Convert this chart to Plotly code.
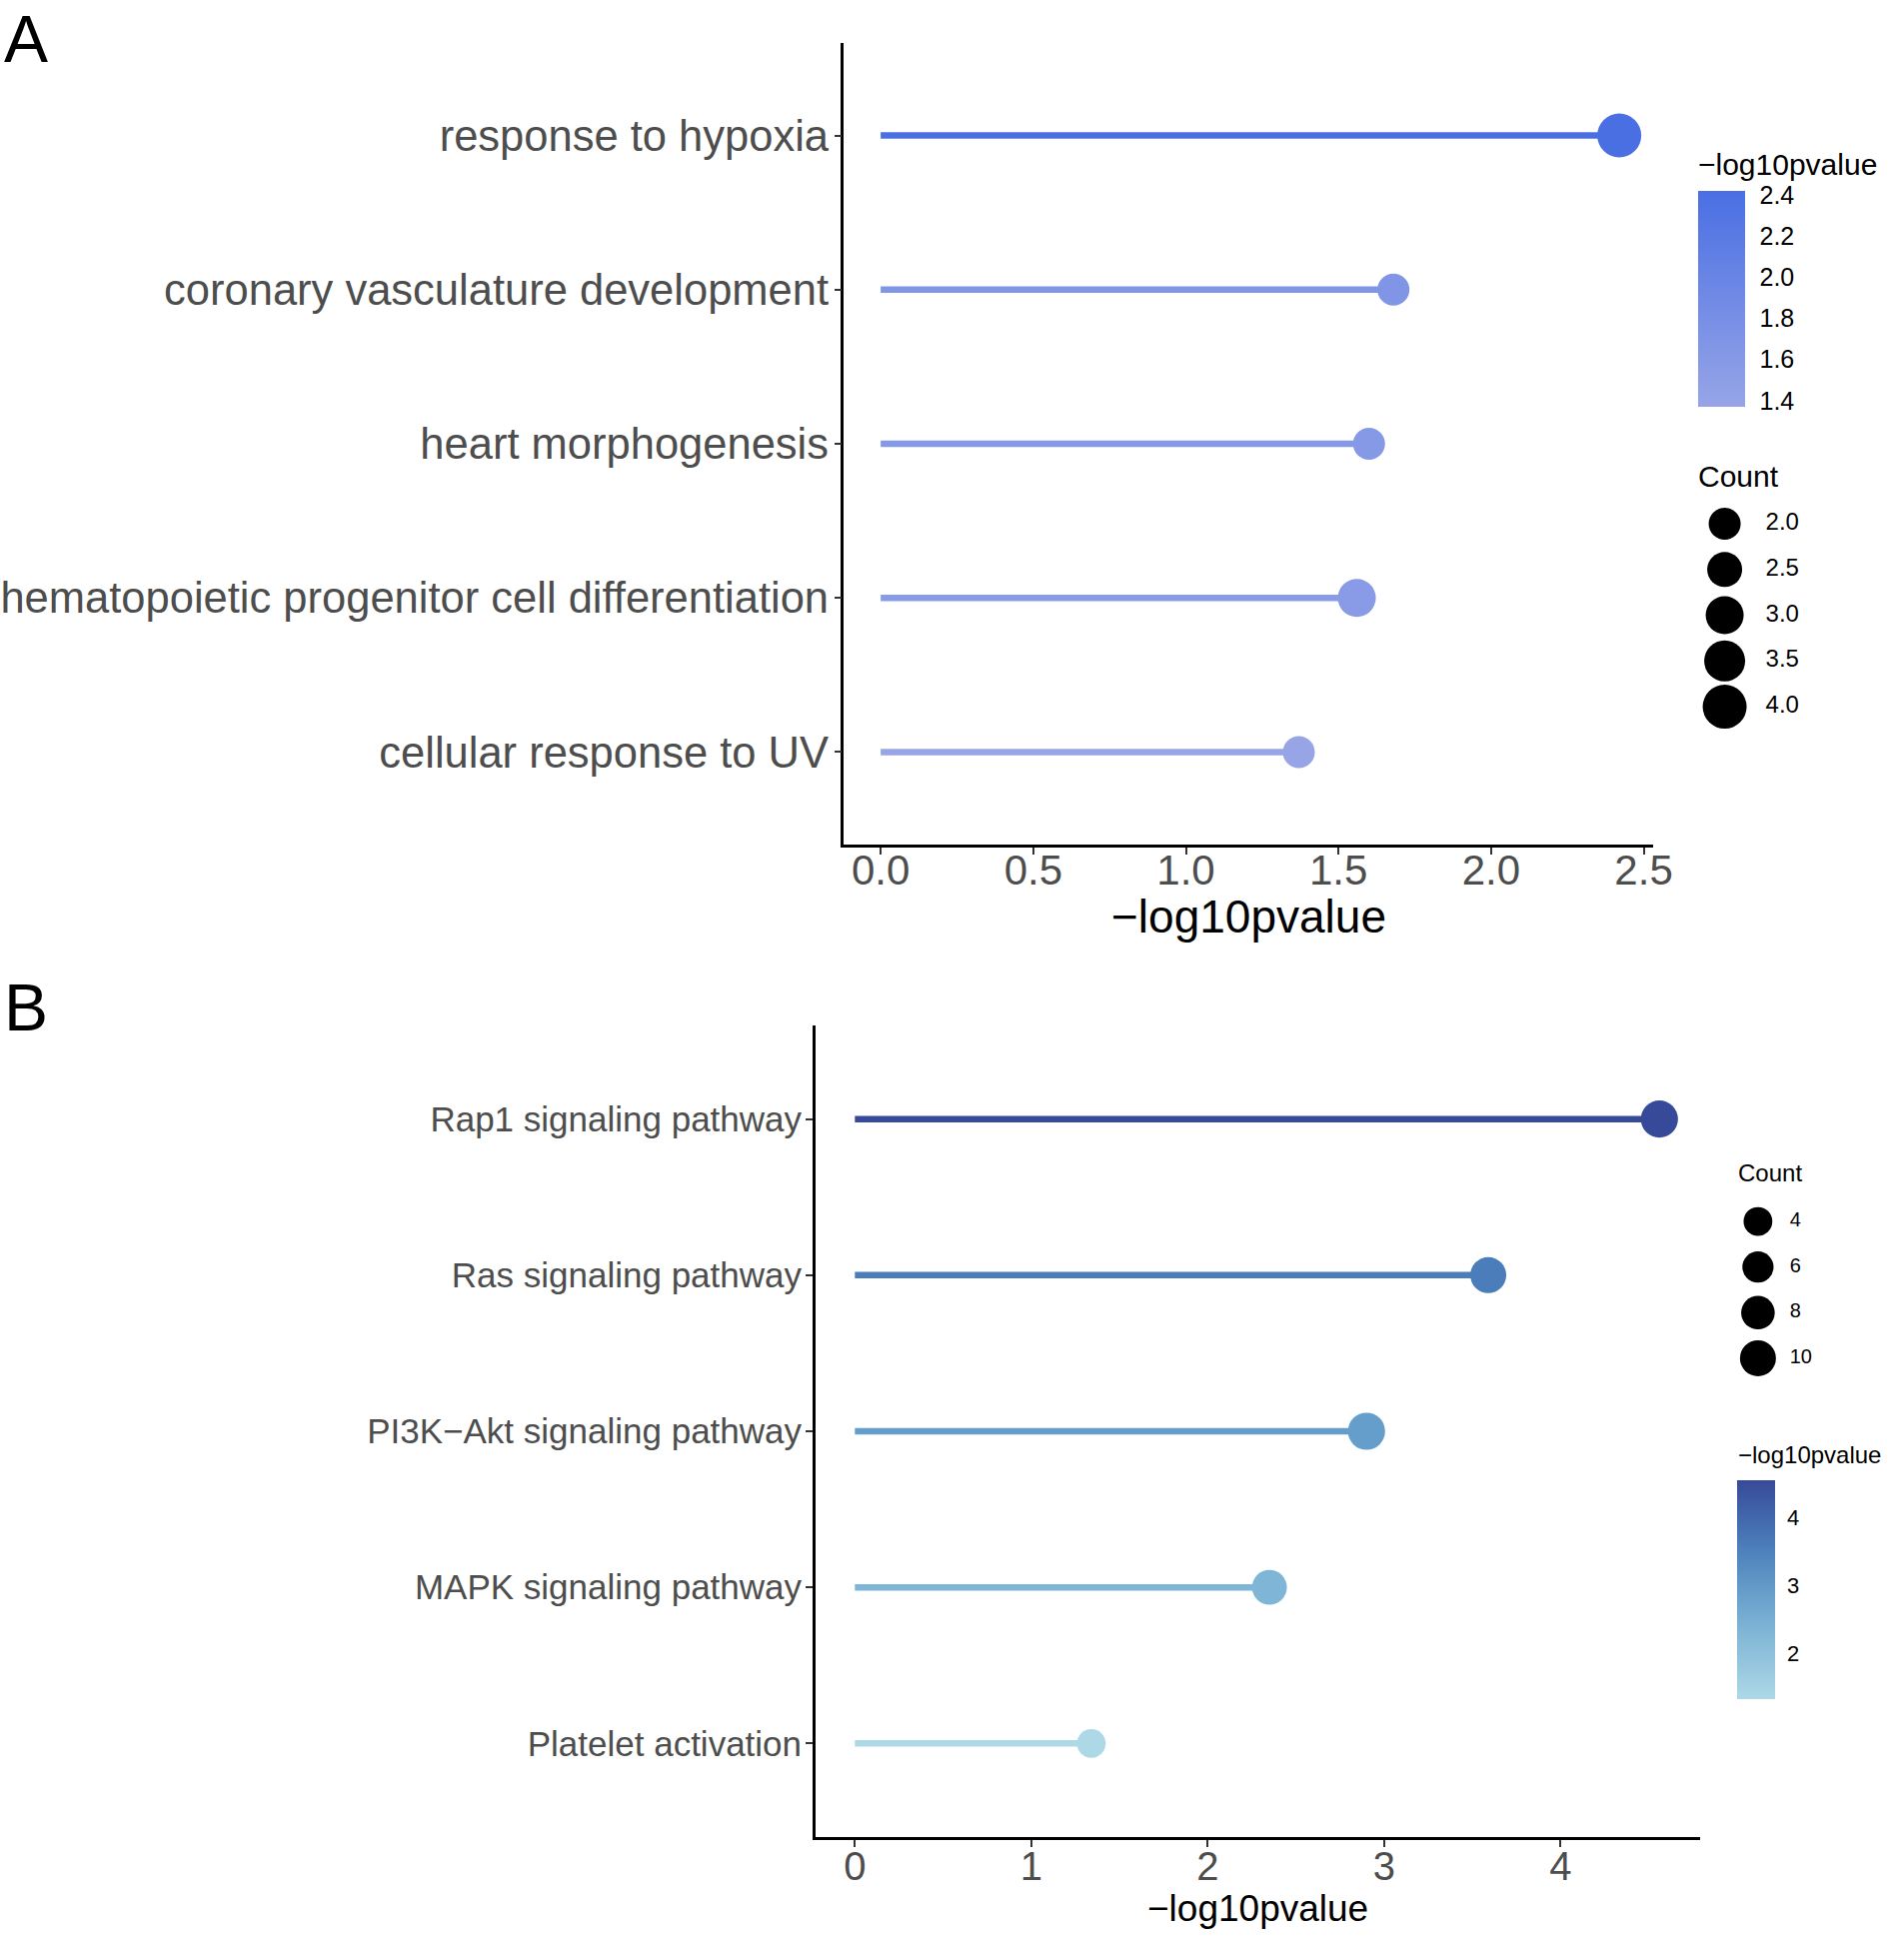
import plotly.graph_objects as go
from plotly.colors import sample_colorscale

# panel A: GO terms
go_terms = ['response to hypoxia', 'coronary vasculature development', 'heart morphogenesis',
            'hematopoietic progenitor cell differentiation', 'cellular response to UV']
go_logp = [2.42, 1.68, 1.60, 1.56, 1.37]
go_count = [4, 2, 2, 3, 2]

# panel B: KEGG pathways
kegg_terms = ['Rap1 signaling pathway', 'Ras signaling pathway', 'PI3K\u2212Akt signaling pathway',
              'MAPK signaling pathway', 'Platelet activation']
kegg_logp = [4.56, 3.59, 2.90, 2.35, 1.34]
kegg_count = [11, 10, 11, 9, 4]

go_size_breaks = [2.0, 2.5, 3.0, 3.5, 4.0]
kegg_size_breaks = [4, 6, 8, 10]
go_color_ticks = [1.4, 1.6, 1.8, 2.0, 2.2, 2.4]
go_xticks = [0.0, 0.5, 1.0, 1.5, 2.0, 2.5]
kegg_xticks = [0, 1, 2, 3, 4]
kegg_color_ticks = [2, 3, 4]

# positions below are pixels of a 1905x1937 page; the figure fills the window
FW, FH = 1905, 1937
scale_a = [[0, '#97A5E7'], [1, '#4A6FE3']]
scale_b = [[0, '#ADD8E6'], [0.31, '#80B5D6'], [0.48, '#679FCB'], [0.70, '#4B7DBA'], [1, '#374A99']]

FONT = 'Liberation Sans, Arial, sans-serif'
GREY = '#4D4D4D'


def fx(p):
    return p / FW


def fy(p):
    return 1 - p / FH


def size_a(c):
    return 20 + 6 * c


def size_b(c):
    return 24 + 1.2 * c


fig = go.Figure()


def lollipop(terms, vals, counts, scale, sizefn, xa, ya, cbar):
    lo, hi = min(vals), max(vals)
    for t, v in zip(terms, vals):
        col = sample_colorscale(scale, [(v - lo) / (hi - lo)])[0]
        fig.add_trace(go.Scatter(x=[0, v], y=[t, t], mode='lines', line=dict(color=col, width=6.5),
                                 xaxis=xa, yaxis=ya, showlegend=False, hoverinfo='skip'))
    fig.add_trace(go.Scatter(
        x=vals, y=terms, mode='markers', xaxis=xa, yaxis=ya, showlegend=False,
        marker=dict(size=[sizefn(c) for c in counts], color=vals, colorscale=scale,
                    cmin=lo, cmax=hi, opacity=1, line=dict(width=0), colorbar=cbar)))


cbar_a = dict(x=fx(1716), xanchor='left', xpad=0, ypad=0, y=fy(299), yanchor='middle', thickness=47,
              len=216, lenmode='pixels', tickvals=go_color_ticks, ticktext=['%.1f' % t for t in go_color_ticks],
              ticks='outside', ticklen=10, tickcolor='white', outlinewidth=0,
              tickfont=dict(family=FONT, size=25, color='black'))
cbar_b = dict(x=fx(1756), xanchor='left', xpad=0, ypad=0, y=fy(1590), yanchor='middle', thickness=38,
              len=219, lenmode='pixels', tickvals=kegg_color_ticks,
              ticks='outside', ticklen=8, tickcolor='white', outlinewidth=0,
              tickfont=dict(family=FONT, size=22, color='black'))

lollipop(go_terms, go_logp, go_count, scale_a, size_a, 'x', 'y', cbar_a)
lollipop(kegg_terms, kegg_logp, kegg_count, scale_b, size_b, 'x2', 'y2', cbar_b)

# size legends
fig.add_trace(go.Scatter(x=[0.164] * len(go_size_breaks), y=go_size_breaks, mode='markers',
                         marker=dict(color='#000000', opacity=1, line=dict(width=0),
                                     size=[size_a(c) for c in go_size_breaks]),
                         xaxis='x3', yaxis='y3', showlegend=False, hoverinfo='skip'))
fig.add_trace(go.Scatter(x=[0.46] * len(go_size_breaks), y=go_size_breaks, mode='text',
                         text=['%.1f' % c for c in go_size_breaks], textposition='middle right',
                         textfont=dict(family=FONT, size=24, color='black'),
                         xaxis='x3', yaxis='y3', showlegend=False, hoverinfo='skip'))
fig.add_trace(go.Scatter(x=[0.19] * len(kegg_size_breaks), y=kegg_size_breaks, mode='markers',
                         marker=dict(color='#000000', opacity=1, line=dict(width=0),
                                     size=[size_b(c) for c in kegg_size_breaks]),
                         xaxis='x4', yaxis='y4', showlegend=False, hoverinfo='skip'))
fig.add_trace(go.Scatter(x=[0.42] * len(kegg_size_breaks), y=kegg_size_breaks, mode='text',
                         text=[str(c) for c in kegg_size_breaks], textposition='middle right',
                         textfont=dict(family=FONT, size=20, color='black'),
                         xaxis='x4', yaxis='y4', showlegend=False, hoverinfo='skip'))

axis_common = dict(showline=True, linecolor='black', linewidth=2.5, showgrid=False, zeroline=False,
                   ticks='outside', ticklen=7, tickwidth=2, tickcolor='#333333')
hidden = dict(visible=False, showgrid=False, zeroline=False)


def note(text, x, y, size, xanchor='left', yanchor='middle', color='black'):
    return dict(text=text, x=x, y=y, xref='paper', yref='paper', xanchor=xanchor, yanchor=yanchor,
                showarrow=False, font=dict(family=FONT, size=size, color=color))


fig.update_layout(
    autosize=True, margin=dict(l=0, r=0, t=0, b=0),
    plot_bgcolor='white', paper_bgcolor='white',
    xaxis=dict(axis_common, domain=[fx(853), fx(1671)], range=[-0.12, 2.532], tickvals=go_xticks,
               ticktext=['%.1f' % t for t in go_xticks], ticklabelstandoff=-20,
               tickfont=dict(family=FONT, size=42, color=GREY)),
    yaxis=dict(axis_common, domain=[fy(845), fy(43)], type='category', categoryorder='array',
               categoryarray=go_terms[::-1], range=[-0.6, 4.6], ticklabelstandoff=-3,
               tickfont=dict(family=FONT, size=43.5, color=GREY)),
    xaxis2=dict(axis_common, anchor='y2', domain=[fx(824), fx(1718)], range=[-0.224, 4.79], tickvals=kegg_xticks,
                ticklabelstandoff=-15, tickfont=dict(family=FONT, size=40, color=GREY)),
    yaxis2=dict(axis_common, anchor='x2', domain=[fy(1838), fy(1026)], type='category', categoryorder='array',
                categoryarray=kegg_terms[::-1], range=[-0.6, 4.6], ticklabelstandoff=-3,
                tickfont=dict(family=FONT, size=35, color=GREY)),
    xaxis3=dict(hidden, anchor='y3', domain=[fx(1720), fx(1860)], range=[0, 1]),
    yaxis3=dict(hidden, anchor='x3', domain=[fy(740), fy(490)], range=[4.36, 1.628]),
    xaxis4=dict(hidden, anchor='y4', domain=[fx(1750), fx(1890)], range=[0, 1]),
    yaxis4=dict(hidden, anchor='x4', domain=[fy(1390), fy(1190)], range=[11.36, 2.596]),
    annotations=[
        note('A', fx(2), 1, 66, yanchor='top'),
        note('B', fx(2), fy(969), 66, yanchor='top'),
        note('\u2212log10pvalue', fx(1262), fy(917), 46, xanchor='center'),
        note('\u2212log10pvalue', fx(1271), fy(1909), 37, xanchor='center'),
        note('\u2212log10pvalue', fx(1714), fy(164), 30),
        note('\u2212log10pvalue', fx(1754), fy(1455), 24),
        note('Count', fx(1714), fy(476), 30),
        note('Count', fx(1754), fy(1173), 24),
    ],
)

# figure fills the whole window; drop the default body margin and scrollbars
fig.write_html('out.html', default_width='100vw', default_height='100vh',
               config={'displayModeBar': False},
               post_script="document.body.style.margin='0';document.body.style.overflow='hidden';")
